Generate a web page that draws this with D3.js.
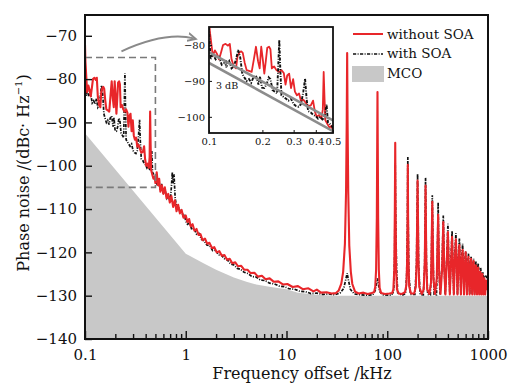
<!DOCTYPE html>
<html>
<head>
<meta charset="utf-8">
<script src="https://cdn.jsdelivr.net/npm/d3@7"></script>
<style>
  body { margin: 0; background: #fff; }
  svg { display: block; font-family: "DejaVu Serif", serif; }
</style>
</head>
<body>
<svg id="chart" width="512" height="387"></svg>
<script>
// phase noise, without SOA  [kHz, dBc/Hz]
var withoutSOA = [
  [0.100,-72],[0.101,-76],[0.103,-79.5],[0.105,-83],[0.108,-81.5],[0.111,-82.5],[0.114,-84],[0.117,-82],
  [0.120,-80],[0.124,-79.7],[0.128,-80.2],[0.131,-79.7],[0.134,-84],[0.138,-86],[0.142,-86.5],[0.145,-83],
  [0.149,-82],[0.152,-81.8],[0.155,-82.2],[0.159,-85],[0.163,-87],[0.168,-87.2],[0.174,-87.5],[0.179,-84],
  [0.184,-80.5],[0.189,-84.5],[0.193,-86.5],[0.197,-80.5],[0.201,-84],[0.205,-88],[0.209,-84.5],[0.213,-80.8],
  [0.218,-80.5],[0.222,-81.2],[0.226,-86.5],[0.233,-86],[0.240,-87],[0.248,-87.5],[0.256,-87],[0.264,-87.8],
  [0.270,-91],[0.276,-88.5],[0.283,-88],[0.290,-92],[0.298,-89.5],[0.305,-93],[0.313,-94],[0.322,-93.5],
  [0.330,-95.6],[0.340,-95.2],[0.350,-96],[0.362,-97],[0.375,-96.8],[0.386,-95.5],[0.395,-98.5],[0.405,-100],
  [0.418,-99.5],[0.430,-100.5],[0.438,-98],[0.443,-87.5],[0.448,-95],[0.453,-101],[0.465,-102],[0.478,-103],
  [0.490,-102.5],[0.500,-104],
  [0.515,-101.5],[0.53,-104.5],[0.545,-103],[0.56,-106],[0.58,-104.5],[0.60,-106.5],[0.62,-105],[0.645,-107.5],
  [0.67,-106.5],[0.695,-108.5],[0.72,-107],[0.75,-109.5],[0.78,-108],[0.81,-110.5],[0.84,-109],[0.875,-111],
  [0.91,-110.2],[0.95,-112],[1.0,-111.5],
  [1.04,-113],[1.08,-112.3],[1.12,-114],[1.17,-113.5],[1.22,-115],[1.28,-114.6],[1.34,-116],[1.4,-115.8],
  [1.47,-117.2],[1.55,-116.8],[1.63,-118],[1.72,-117.8],[1.82,-119],[1.92,-118.8],[2.03,-120],[2.15,-119.7],
  [2.28,-120.8],[2.42,-120.6],[2.57,-121.7],[2.73,-121.5],[2.9,-122.5],[3.1,-122.3],[3.3,-123.2],[3.55,-123.1],
  [3.8,-124],[4.1,-124],[4.4,-124.8],[4.8,-124.7],[5.2,-125.6],[5.7,-125.4],[6.2,-126.2],[6.8,-126],
  [7.5,-126.8],[8.3,-126.7],[9.2,-127.4],[10.2,-127.3],[11.5,-128],[13,-127.8],[14.5,-128.5],[16.5,-128.3],
  [18.5,-129],[20,-128.6],[22,-129.3],[25,-129.2],[28,-129.5],[31,-129.4],[33,-128.8],[35,-127.2],
  [36.5,-124.5],[38,-118],[39,-106],[39.6,-90],[40,-74],[40.4,-90],[41,-106],[42,-118.5],[43.5,-124.5],
  [45,-127.3],[48,-129.1],[52,-129.5],[58,-129.3],[64,-129.6],[70,-129.4],[74,-129.2],[76,-128],[77.5,-124],
  [78.8,-112],[79.5,-95],[80,-83],[80.5,-95],[81.2,-112],[82.5,-124],[84,-128.2],[87,-129.4],[95,-129.6],
  [105,-129.5],[112,-129.4],[115,-128.5],[117.5,-124],[119,-110],[120,-94.7],[121,-110],[122.5,-124],[125,-128.6],
  [130,-129.5],[140,-129.6],[150,-129.2],[155,-127.5],[157.5,-122],[159,-112],[160,-99.8],[161,-112],[162.5,-122],
  [165,-127.8],[172,-129.5],[185,-129.5],[192,-128],[196,-122],[200,-103.4],[204,-122],[208,-128],[220,-129.6],
  [230,-128.6],[236,-122],[240,-104.6],[244,-122],[249,-128.5],[262,-129.6],[272,-127],[280,-108.3],[287,-126],
  [298,-129.6],[310,-126],[320,-111.3],[328,-125],[338,-129.6],[350,-124],[360,-113],[368,-124],[378,-129.7],
  [390,-122],[400,-115.3],[408,-123],[418,-129.7],[430,-122],[440,-116.4],[448,-123],[458,-129.7],[470,-121],
  [480,-117],[488,-122],[498,-129.7],[510,-122],[520,-118.3],[528,-123],[538,-129.7],[550,-122],[560,-119.4],
  [568,-124],[578,-129.7],[590,-123],[600,-120],[608,-124],[618,-129.7],[630,-124],[640,-121],[648,-125],
  [658,-129.7],[670,-124],[680,-121.5],[690,-126],[698,-129.7],[710,-124],[720,-122],[730,-126],[738,-129.7],
  [750,-125],[760,-123],[770,-126.5],[778,-129.7],[790,-125],[800,-123.5],[810,-127],[818,-129.7],[830,-126],
  [840,-124.5],[850,-127.5],[858,-129.7],[870,-126.5],[880,-125],[890,-128],[898,-129.7],[910,-127],[920,-126],
  [930,-128.5],[938,-129.7],[950,-127.5],[960,-126.5],[975,-128.5],[990,-128],[1000,-128]
]

// phase noise, with SOA
var withSOA = [
  [0.100,-75],[0.101,-80],[0.102,-84],[0.105,-82.5],[0.109,-84],[0.113,-83],[0.118,-85.5],[0.122,-85],
  [0.126,-85.8],[0.130,-84.5],[0.134,-86.5],[0.138,-86],[0.142,-84],[0.146,-81.4],[0.150,-83.5],[0.154,-88],
  [0.158,-89],[0.163,-90],[0.168,-89.5],[0.173,-90.5],[0.178,-89],[0.184,-88.5],[0.190,-91],[0.194,-88.8],
  [0.199,-91.9],[0.205,-92],[0.211,-91],[0.217,-89],[0.222,-89.5],[0.228,-92.5],[0.235,-93],[0.242,-93.5],
  [0.246,-85],[0.249,-78.6],[0.252,-86],[0.256,-94],[0.264,-94.5],[0.272,-95],[0.280,-95.5],[0.290,-95],
  [0.300,-96.5],[0.310,-97],[0.320,-97.2],[0.330,-96.5],[0.340,-93],[0.348,-89.4],[0.355,-95],[0.362,-98.4],
  [0.375,-98.8],[0.388,-99.5],[0.400,-99.8],[0.412,-100.5],[0.425,-100],[0.440,-101],[0.452,-99],[0.460,-96.6],
  [0.468,-101.5],[0.480,-102],[0.490,-102.5],[0.500,-103],
  [0.515,-104],[0.535,-102.8],[0.555,-105.5],[0.575,-104.2],[0.60,-106.5],[0.625,-105.8],[0.65,-107.5],
  [0.675,-106.8],[0.70,-108.2],[0.72,-105],[0.735,-101.5],[0.75,-104],[0.765,-102],[0.785,-107.5],[0.81,-109.5],
  [0.84,-109.2],[0.87,-110.5],[0.90,-110.2],[0.94,-111.5],[0.97,-111.2],[1.0,-112.8],
  [1.04,-113.5],[1.09,-113.2],[1.15,-114.8],[1.21,-114.5],[1.28,-115.8],[1.35,-115.6],[1.43,-117],[1.52,-117.3],
  [1.62,-118.3],[1.73,-118.5],[1.85,-119.6],[1.98,-119.5],[2.12,-120.6],[2.27,-120.7],[2.43,-121.5],[2.6,-121.8],
  [2.8,-122.7],[3.0,-122.9],[3.25,-123.7],[3.5,-123.9],[3.8,-124.6],[4.15,-124.9],[4.55,-125.6],[5.0,-125.7],
  [5.5,-126.4],[6.1,-126.5],[6.8,-127.1],[7.6,-127.3],[8.5,-127.8],[9.5,-127.9],[10.6,-128.4],[12,-128.5],
  [13.6,-129],[15.5,-129.1],[17.5,-129.5],[20,-129.4],[23,-129.7],[26,-129.6],[30,-129.8],[34,-129.4],
  [37,-128.3],[39,-126],[40,-124.8],[41,-126.2],[43,-128.5],[47,-129.6],[60,-129.9],[72,-129.8],[76,-128.8],
  [78.5,-127],[80,-126],[81.5,-127.2],[84,-129],[90,-129.8],[110,-129.9],[116,-129],[118.5,-120],[119.5,-105],
  [120,-99.5],[120.8,-108],[122,-116],[124,-124],[127,-129.3],[140,-129.9],[152,-129.5],[156,-125],[158.5,-114],
  [160,-98],[161.5,-113],[164,-125],[170,-129.7],[188,-129.7],[195,-123],[200,-101.8],[205,-123],[212,-129.7],
  [228,-129.8],[235,-123],[240,-102.8],[245,-123],[252,-129.7],[268,-129.8],[274,-123],[280,-106.8],[286,-123],
  [292,-129.7],[308,-129.8],[313,-124],[320,-108.5],[326,-123],[334,-129.7],[350,-123],[360,-111.5],[368,-123],
  [376,-129.7],[390,-121],[400,-113.4],[408,-122],[418,-129.7],[430,-121],[440,-115],[448,-122],[458,-129.7],
  [470,-120],[480,-115.6],[488,-121],[498,-129.7],[510,-121],[520,-116.8],[528,-122],[538,-129.7],[550,-121],
  [560,-118],[568,-123],[578,-129.7],[590,-122],[600,-119.8],[608,-123],[618,-129.7],[630,-123],[640,-120.3],
  [648,-124],[658,-129.7],[670,-123],[680,-121],[690,-125],[698,-129.7],[710,-123],[720,-121.5],[730,-125],
  [738,-129.7],[750,-123.5],[760,-122],[770,-125],[780,-129.5],[790,-124],[800,-122.5],[812,-125.5],[822,-129],
  [835,-124.5],[845,-123.5],[858,-125.5],[868,-128.5],[880,-125],[890,-124.5],[905,-126],[920,-125.5],[940,-125.3],
  [960,-125.6],[980,-126],[1000,-126.3]
]

// MCO floor
var mco = [
  [0.1,-92.5],[1,-120.3],[1.2,-121.3],[1.5,-122.5],[2,-124],[3,-125.8],[4,-126.8],[5,-127.4],
  [7,-128],[10,-128.5],[13,-129.3],[20,-129.8],[30,-130],[1000,-130]
]

// inset guide lines (3 dB apart)
var guideUpper = [[0.1,-82],[0.5,-101]]
var guideLower = [[0.1,-85],[0.5,-104]]

var xTicks = [0.1, 1, 10, 100, 1000]
var xTickLabels = ["0.1", "1", "10", "100", "1000"]
var yTicks = [-140, -130, -120, -110, -100, -90, -80, -70]
var insetXTicks = [0.1, 0.2, 0.3, 0.4, 0.5]
var insetYTicks = [-80, -90, -100]
var zoomBox = {x0: 0.1, x1: 0.5, y0: -105, y1: -75}

var legendItems = ["without SOA", "with SOA", "MCO"]
var red = "#e8262a"
var dashDot = "3.2 1.4 1 1.4"

var margin = {top: 15, right: 24, bottom: 48, left: 85}
var width = 512, height = 387

var svg = d3.select("#chart")

var x = d3.scaleLog().domain([0.1, 1000]).range([margin.left, width - margin.right])
var y = d3.scaleLinear().domain([-140, -65.2]).range([height - margin.bottom, margin.top])

svg.append("clipPath").attr("id", "clipMain")
  .append("rect")
  .attr("x", x.range()[0]).attr("y", y.range()[1])
  .attr("width", x.range()[1] - x.range()[0]).attr("height", y.range()[0] - y.range()[1])

var plot = svg.append("g").attr("clip-path", "url(#clipMain)")

var area = d3.area()
  .x(d => x(d[0]))
  .y0(y(-140))
  .y1(d => y(d[1]))
plot.append("path").datum(mco)
  .attr("fill", "#c8c8c8")
  .attr("d", area)

var line = d3.line()
  .x(d => x(d[0]))
  .y(d => y(d[1]))

// with SOA underneath, red on top: black shows where it rises above
plot.append("path").datum(withSOA)
  .attr("fill", "none")
  .attr("stroke", "#111")
  .attr("stroke-width", 1.7)
  .attr("stroke-dasharray", dashDot)
  .attr("d", line)

plot.append("path").datum(withoutSOA)
  .attr("fill", "none")
  .attr("stroke", red)
  .attr("stroke-width", 2.1)
  .attr("stroke-linejoin", "round")
  .attr("d", line)

// dashed zoom rectangle
svg.append("rect")
  .attr("x", x(zoomBox.x0)).attr("y", y(zoomBox.y1))
  .attr("width", x(zoomBox.x1) - x(zoomBox.x0))
  .attr("height", y(zoomBox.y0) - y(zoomBox.y1))
  .attr("fill", "none")
  .attr("stroke", "#7a7a7a")
  .attr("stroke-width", 1.6)
  .attr("stroke-dasharray", "7 4")

// axes
var xAxis = g => g
  .attr("transform", `translate(0,${y(-140)})`)
  .call(d3.axisBottom(x).tickValues(xTicks).tickSize(-8).tickPadding(10)
    .tickFormat((d, i) => xTickLabels[i]))
var xMinor = g => g
  .attr("transform", `translate(0,${y(-140)})`)
  .call(d3.axisBottom(x).tickValues(x.ticks().filter(d => xTicks.indexOf(d) < 0))
    .tickSize(-5).tickFormat(""))
var yAxis = g => g
  .attr("transform", `translate(${x(0.1)},0)`)
  .call(d3.axisLeft(y).tickValues(yTicks).tickSize(-7).tickPadding(8)
    .tickFormat(d => d3.format("d")(d).replace("-", "\u2212")))

svg.append("g").call(xMinor)
svg.append("g").call(xAxis)
svg.append("g").call(yAxis)
svg.selectAll(".domain").remove()
svg.selectAll(".tick line").attr("stroke", "#111").attr("stroke-width", 1.4)
svg.selectAll(".tick text").attr("font-family", "DejaVu Serif").attr("font-size", 15).attr("fill", "#111")

svg.append("rect")
  .attr("x", x.range()[0]).attr("y", y.range()[1])
  .attr("width", x.range()[1] - x.range()[0]).attr("height", y.range()[0] - y.range()[1])
  .attr("fill", "none").attr("stroke", "#111").attr("stroke-width", 2)

// axis titles
svg.append("text")
  .attr("x", 302).attr("y", 379)
  .attr("text-anchor", "middle")
  .attr("font-size", 16).attr("fill", "#111")
  .text("Frequency offset /kHz")

var yt = svg.append("text")
  .attr("transform", "translate(29,173) rotate(-90)")
  .attr("text-anchor", "middle")
  .attr("font-size", 16).attr("fill", "#111")
yt.append("tspan").text("Phase noise /(dBc\u00b7 Hz")
yt.append("tspan").attr("font-size", 10).attr("dy", -7).text("\u22121")
yt.append("tspan").attr("dy", 7).text(")")

// legend
var lg = svg.append("g").attr("font-size", 13.5).attr("fill", "#111")
lg.append("line").attr("x1", 353).attr("x2", 383).attr("y1", 34).attr("y2", 34)
  .attr("stroke", red).attr("stroke-width", 2)
lg.append("line").attr("x1", 353).attr("x2", 383).attr("y1", 54).attr("y2", 54)
  .attr("stroke", "#111").attr("stroke-width", 1.6).attr("stroke-dasharray", dashDot)
lg.append("rect").attr("x", 352).attr("y", 66).attr("width", 32).attr("height", 16)
  .attr("fill", "#c8c8c8")
lg.selectAll("text").data(legendItems).join("text")
  .attr("x", 387)
  .attr("y", (d, i) => 34 + i * 19.5)
  .attr("dy", "0.35em")
  .text(d => d)

// arrow from zoom box to inset
svg.append("defs").append("marker")
  .attr("id", "arrowHead")
  .attr("viewBox", "0 0 10 10").attr("refX", 6).attr("refY", 5)
  .attr("markerWidth", 5).attr("markerHeight", 5)
  .attr("orient", "auto")
  .append("path").attr("d", "M0,1 L8,5 L0,9").attr("fill", "none")
  .attr("stroke", "#8a8a8a").attr("stroke-width", 2)
svg.append("path")
  .attr("d", `M${x(0.23)},${y(-73.6)} Q${x(0.62)},${y(-69)} ${x(1.2)},${y(-70.6)}`)
  .attr("fill", "none").attr("stroke", "#8a8a8a").attr("stroke-width", 2)
  .attr("marker-end", "url(#arrowHead)")

// inset
var xi = d3.scaleLog().domain([0.1, 0.5]).range([209, 333])
var yi = d3.scaleLinear().domain([-104.5, -75]).range([133, 27])

svg.append("clipPath").attr("id", "clipInset")
  .append("rect")
  .attr("x", 209).attr("y", 27).attr("width", 124).attr("height", 106)

svg.append("rect").attr("x", 209).attr("y", 27).attr("width", 124).attr("height", 106)
  .attr("fill", "#fff")

var inset = svg.append("g").attr("clip-path", "url(#clipInset)")
var lineI = d3.line()
  .x(d => xi(d[0]))
  .y(d => yi(d[1]))

inset.append("path").datum(withoutSOA)
  .attr("fill", "none").attr("stroke", red).attr("stroke-width", 1.8)
  .attr("stroke-linejoin", "round")
  .attr("d", lineI)
inset.append("path").datum(withSOA)
  .attr("fill", "none").attr("stroke", "#111").attr("stroke-width", 1.9)
  .attr("stroke-dasharray", dashDot)
  .attr("d", lineI)
inset.selectAll(".guide").data([guideUpper, guideLower]).join("path")
  .attr("class", "guide")
  .attr("fill", "none").attr("stroke", "#8c8c8c").attr("stroke-width", 2.6)
  .attr("d", lineI)
inset.append("line")
  .attr("x1", xi(0.125)).attr("x2", xi(0.125))
  .attr("y1", yi(-84.2)).attr("y2", yi(-86.4))
  .attr("stroke", "#777").attr("stroke-width", 1.5)

svg.append("text").attr("x", 216).attr("y", 89)
  .attr("font-size", 9.5).attr("fill", "#111")
  .text("3 dB")

var xiAxis = g => g
  .attr("transform", "translate(0,133)")
  .call(d3.axisBottom(xi).tickValues(insetXTicks).tickSize(-3).tickPadding(5)
    .tickFormat(d3.format(".1f")))
var yiAxis = g => g
  .attr("transform", "translate(209,0)")
  .call(d3.axisLeft(yi).tickValues(insetYTicks).tickSize(-3).tickPadding(4)
    .tickFormat(d => d3.format("d")(d).replace("-", "\u2212")))
var gx = svg.append("g").call(xiAxis)
var gy = svg.append("g").call(yiAxis)
gx.select(".domain").remove()
gy.select(".domain").remove()
gx.selectAll("text").attr("font-family", "DejaVu Serif").attr("font-size", 10).attr("fill", "#111")
gy.selectAll("text").attr("font-family", "DejaVu Serif").attr("font-size", 10).attr("fill", "#111")
gx.selectAll("line").attr("stroke", "#111")
gy.selectAll("line").attr("stroke", "#111")

svg.append("rect").attr("x", 209).attr("y", 27).attr("width", 124).attr("height", 106)
  .attr("fill", "none").attr("stroke", "#111").attr("stroke-width", 1.8)
</script>
</body>
</html>
